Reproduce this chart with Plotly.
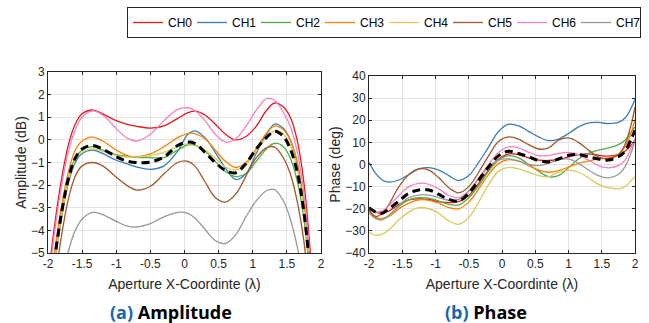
import plotly.graph_objects as go

# ---------------- Data ----------------
channels = ["CH0", "CH1", "CH2", "CH3", "CH4", "CH5", "CH6", "CH7"]
colors = ["#e41a1c", "#377eb8", "#4daf4a", "#ff7f00", "#dcc95a", "#a65628", "#f781bf", "#999999"]

x_amp = [-2.0, -1.9, -1.8, -1.7, -1.6, -1.5, -1.35, -1.2, -1.0, -0.85, -0.7, -0.5, -0.3, -0.1,
         0.05, 0.15, 0.3, 0.45, 0.6, 0.75, 0.9, 1.05, 1.2, 1.32, 1.45, 1.55, 1.65, 1.75, 1.85, 2.0]

amp_ch0 = [-6.2, -3.7, -1.7, -0.2, 0.7, 1.15, 1.32, 1.15, 0.85, 0.7, 0.6, 0.52, 0.62, 0.95,
           1.2, 1.27, 1.1, 0.7, 0.25, 0.0, 0.15, 0.6, 1.3, 1.63, 1.45, 1.0, 0.0, -1.9, -5.2, -11]
amp_ch1 = [-7.9, -5.4, -3.4, -1.9, -1.0, -0.6, -0.45, -0.6, -0.9, -1.05, -1.2, -1.3, -1.15, -0.5,
           0.25, 0.4, 0.1, -0.55, -1.25, -1.75, -1.5, -0.6, 0.25, 0.7, 0.5, 0.0, -1.0, -2.9, -6.0, -12]
amp_ch2 = [-7.7, -5.2, -3.2, -1.7, -0.8, -0.45, -0.3, -0.45, -0.65, -0.72, -0.77, -0.78, -0.78, -0.45,
           -0.22, -0.23, -0.5, -0.95, -1.4, -1.62, -1.5, -0.95, -0.4, -0.15, -0.3, -0.8, -1.8, -3.5, -6.5, -12.5]
amp_ch3 = [-7.4, -4.9, -2.9, -1.4, -0.45, -0.05, 0.12, -0.05, -0.45, -0.68, -0.75, -0.62, -0.3, 0.1,
           0.28, 0.28, 0.05, -0.45, -0.95, -1.22, -1.0, -0.4, 0.3, 0.62, 0.45, 0.0, -1.0, -2.9, -6.0, -12]
amp_ch4 = [-7.8, -5.3, -3.3, -1.8, -0.9, -0.55, -0.4, -0.5, -0.7, -0.76, -0.75, -0.7, -0.55, -0.3,
           -0.18, -0.2, -0.45, -0.8, -1.2, -1.32, -1.1, -0.5, 0.1, 0.4, 0.25, -0.25, -1.25, -3.1, -6.2, -12]
amp_ch5 = [-8.8, -6.3, -4.2, -2.6, -1.6, -1.15, -1.0, -1.15, -1.65, -2.0, -2.22, -2.05, -1.5, -1.0,
           -0.95, -1.15, -1.85, -2.55, -2.75, -2.4, -1.6, -0.8, -0.35, -0.32, -0.8, -1.5, -2.7, -4.5, -7.5, -13]
amp_ch6 = [-6.5, -4.0, -2.0, -0.5, 0.45, 1.0, 1.28, 1.1, 0.5, 0.1, -0.05, 0.25, 0.85, 1.35,
           1.42, 1.3, 0.85, 0.25, -0.1, 0.05, 0.6, 1.3, 1.82, 1.75, 1.2, 0.6, -0.5, -2.4, -5.6, -11.5]
amp_ch7 = [-11, -8.5, -6.3, -4.9, -4.0, -3.5, -3.2, -3.3, -3.6, -3.8, -3.85, -3.7, -3.4, -3.2,
           -3.25, -3.45, -3.95, -4.45, -4.58, -4.2, -3.4, -2.7, -2.25, -2.2, -2.7, -3.5, -4.7, -6.5, -9, -14]
amp_avg = [-7.7, -5.2, -3.2, -1.7, -0.8, -0.4, -0.25, -0.4, -0.75, -0.93, -1.0, -0.98, -0.75, -0.25,
           -0.1, -0.15, -0.55, -1.0, -1.35, -1.45, -1.05, -0.4, 0.1, 0.38, 0.15, -0.4, -1.4, -3.2, -6.2, -12.5]

x_ph = [-2.0, -1.9, -1.8, -1.7, -1.55, -1.4, -1.25, -1.1, -0.95, -0.8, -0.65, -0.5, -0.35, -0.2,
        -0.05, 0.1, 0.25, 0.4, 0.55, 0.7, 0.85, 1.0, 1.15, 1.3, 1.45, 1.6, 1.75, 1.85, 1.95, 2.0]

ph_ch0 = [-20, -21.5, -22, -21, -18, -16, -15.5, -15.8, -16.8, -17.2, -16.8, -14, -8.5, -2.5,
          2.5, 4.8, 4.5, 3, 2, 1.8, 2.2, 3.5, 4.5, 4.8, 4.2, 3.8, 4.5, 6, 9, 11]
ph_ch1 = [1, -4, -7, -8, -7, -4.5, -2, -1.4, -2.5, -5, -7.2, -5, 1, 8,
          15, 18.2, 17.5, 15, 12.5, 10.8, 11.5, 14, 17, 18.8, 19, 18.5, 19, 21, 26, 29.5]
ph_ch2 = [-21, -24, -24.5, -23, -19, -16, -15, -15.2, -16.5, -18, -18.3, -15, -9.5, -3,
          2, 4, 3, 0, -3, -5.5, -5, -1.5, 2.5, 5, 6.5, 7.5, 9, 11, 15, 17]
ph_ch3 = [-21, -24, -24.5, -23.5, -20, -17.5, -16, -16.2, -17.5, -19.5, -20, -17, -11, -4.5,
          0.5, 2.2, 1.5, -0.5, -2.5, -3.5, -2.8, -1.2, 0.5, 1.5, 2.5, 3, 4.5, 8, 15, 20.5]
ph_ch4 = [-30.5, -32, -31.5, -29.5, -25, -21.5, -19.5, -20, -22, -25.5, -27, -24, -17, -9,
          -3, -1.3, -2, -3.5, -5, -5.5, -3.5, -2.5, -3.5, -6, -9, -10.5, -11, -10, -7, -5.5]
ph_ch5 = [-20.5, -23.5, -22, -18, -10, -4.5, -2, -2.5, -6, -10.5, -12.8, -10, -3.5, 4,
          10.5, 12.5, 11.5, 9, 7, 7.5, 11, 12, 10, 6.5, 3.5, 2.5, 4.5, 9, 19, 26]
ph_ch6 = [-20, -21.5, -21, -18.5, -14, -10, -8.5, -9, -11, -14, -15, -12, -6, 0,
          5.5, 8, 7.5, 5.5, 4, 4, 5, 5.5, 4.5, 2, -0.5, -1.5, -0.5, 2, 8, 12]
ph_ch7 = [-22, -24.5, -25, -23, -18.5, -15, -13.8, -13.8, -15, -16.2, -15.8, -12, -6.5, -1,
          2, 2.5, 1.5, 0, -0.5, 0.5, 2.2, 2.5, 0.5, -2.5, -5, -6, -4.5, -1, 6, 11]
ph_avg = [-19.5, -21.5, -22, -20, -16.5, -13, -11.5, -11.5, -13.5, -15.8, -16.5, -13, -7, -1,
          4, 6, 5, 3.5, 1.8, 1.2, 2.5, 4.2, 4.5, 3.5, 2.5, 2, 3.5, 6, 12, 15.5]

x_ticks = [-2, -1.5, -1, -0.5, 0, 0.5, 1, 1.5, 2]
x_tick_labels = ["-2", "-1.5", "-1", "-0.5", "0", "0.5", "1", "1.5", "2"]
amp_ticks = [3, 2, 1, 0, -1, -2, -3, -4, -5]
ph_ticks = [40, 30, 20, 10, 0, -10, -20, -30, -40]

amp_series = [amp_ch0, amp_ch1, amp_ch2, amp_ch3, amp_ch4, amp_ch5, amp_ch6, amp_ch7]
ph_series = [ph_ch0, ph_ch1, ph_ch2, ph_ch3, ph_ch4, ph_ch5, ph_ch6, ph_ch7]

# ---------------- Figure ----------------
fig = go.Figure()
for name, col, ya in zip(channels, colors, amp_series):
    fig.add_trace(go.Scatter(x=x_amp, y=ya, mode="lines", name=name,
                             line=dict(color=col, width=1.3, shape="spline", smoothing=1.0),
                             xaxis="x", yaxis="y", showlegend=True))
fig.add_trace(go.Scatter(x=x_amp, y=amp_avg, mode="lines", showlegend=False,
                         line=dict(color="black", width=3, dash="8px,5px", shape="spline", smoothing=1.0),
                         xaxis="x", yaxis="y"))
for name, col, yp in zip(channels, colors, ph_series):
    fig.add_trace(go.Scatter(x=x_ph, y=yp, mode="lines", name=name,
                             line=dict(color=col, width=1.3, shape="spline", smoothing=1.0),
                             xaxis="x2", yaxis="y2", showlegend=False))
fig.add_trace(go.Scatter(x=x_ph, y=ph_avg, mode="lines", showlegend=False,
                         line=dict(color="black", width=3, dash="8px,5px", shape="spline", smoothing=1.0),
                         xaxis="x2", yaxis="y2"))

W, H = 649, 323
FONT = "Liberation Sans"
tickfont = dict(family=FONT, size=12, color="#262626")
titlefont = dict(family=FONT, size=14, color="#262626")

common_x = dict(range=[-2, 2], tickvals=x_ticks, ticktext=x_tick_labels, showgrid=True,
                gridcolor="#e3e3e3", gridwidth=1, zeroline=False, showline=True, mirror="ticks",
                linecolor="#262626", linewidth=1, ticks="inside", ticklen=3, tickcolor="#262626",
                tickfont=tickfont, title=dict(text="Aperture X-Coordinte (λ)", font=titlefont, standoff=8))
common_y = dict(showgrid=True, gridcolor="#e3e3e3", gridwidth=1, zeroline=False, showline=True,
                mirror="ticks", linecolor="#262626", linewidth=1, ticks="inside", ticklen=3,
                tickcolor="#262626", tickfont=tickfont)

fig.update_layout(
    width=W, height=H,
    margin=dict(l=0, r=0, t=0, b=0, autoexpand=False),
    paper_bgcolor="white", plot_bgcolor="white",
    xaxis=dict(domain=[48 / W, 321 / W], anchor="y", **common_x),
    yaxis=dict(domain=[1 - 253 / H, 1 - 72 / H], anchor="x", range=[-5, 3], tickvals=amp_ticks,
               title=dict(text="Amplitude (dB)", font=titlefont, standoff=1), **common_y),
    xaxis2=dict(domain=[369 / W, 635 / W], anchor="y2", **common_x),
    yaxis2=dict(domain=[1 - 253 / H, 1 - 76 / H], anchor="x2", range=[-40, 40], tickvals=ph_ticks,
                title=dict(text="Phase (deg)", font=titlefont, standoff=1), **common_y),
    legend=dict(orientation="h", x=127 / W, y=1 - 7 / H, xanchor="left", yanchor="top",
                bordercolor="#262626", borderwidth=1, bgcolor="white",
                font=dict(family=FONT, size=12, color="black"),
                entrywidth=19, entrywidthmode="pixels", itemwidth=30, tracegroupgap=0),
    showlegend=True,
    annotations=[
        dict(text="<b><span style='color:#1468ad'>(a)</span> Amplitude</b>", x=171 / W, y=1 - 312 / H,
             xref="paper", yref="paper", showarrow=False, xanchor="center", yanchor="middle",
             font=dict(family="Open Sans", size=18, color="black")),
        dict(text="<b><span style='color:#1468ad'>(b)</span> Phase</b>", x=486 / W, y=1 - 312 / H,
             xref="paper", yref="paper", showarrow=False, xanchor="center", yanchor="middle",
             font=dict(family="Open Sans", size=18, color="black")),
    ],
)

fig.write_html("out.html")
